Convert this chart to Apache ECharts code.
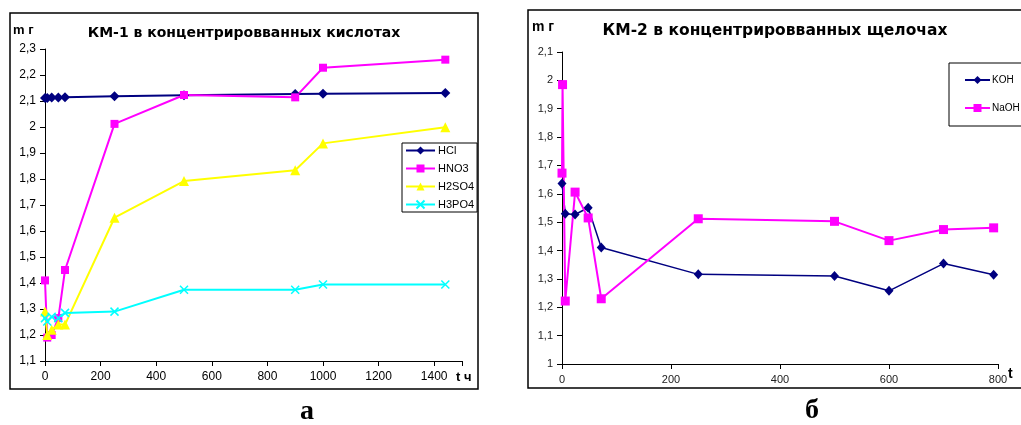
<!DOCTYPE html>
<html>
<head>
<meta charset="utf-8">
<script src="https://cdn.jsdelivr.net/npm/echarts@6/dist/echarts.min.js"></script>
<style>
html,body{margin:0;padding:0;background:#fff;}
#c{width:1021px;height:425px;}
</style>
</head>
<body>
<div id="c"></div>
<script>
// ---- Chart a: KM-1 in concentrated acids ----
var timeA = [0, 8, 24, 48, 72, 250, 500, 900, 1000, 1440];
var hcl   = [2.112, 2.112, 2.113, 2.113, 2.114, 2.118, 2.122, 2.127, 2.128, 2.131];
var hno3  = [1.41, 1.19, 1.2, 1.265, 1.45, 2.012, 2.123, 2.114, 2.228, 2.259];
var h2so4 = [1.29, 1.2, 1.22, 1.24, 1.24, 1.651, 1.792, 1.834, 1.937, 1.999];
var h3po4 = [1.265, 1.252, 1.27, 1.265, 1.285, 1.29, 1.374, 1.374, 1.394, 1.394];
var namesA = ['HCl', 'HNO3', 'H2SO4', 'H3PO4'];

// ---- Chart б: KM-2 in concentrated alkalis ----
var timeKOH  = [0, 6, 24, 48, 72, 250, 500, 600, 700, 792];
var koh      = [1.636, 1.53, 1.527, 1.551, 1.411, 1.316, 1.31, 1.258, 1.354, 1.315];
var timeNaOH = [0, 1, 6, 24, 48, 72, 250, 500, 600, 700, 792];
var naoh     = [1.673, 1.985, 1.222, 1.606, 1.515, 1.23, 1.512, 1.503, 1.435, 1.474, 1.48];
var namesB = ['KOH', 'NaOH'];

var titleA = 'КМ-1 в концентрировванных кислотах';
var titleB = 'КМ-2 в концентрировванных щелочах';
var yNameA = 'm г', xNameA = 't ч', yNameB = 'm г', xNameB = 't';
var capA = 'а', capB = 'б';

function pairs(xs, ys){ return xs.map(function(x,i){ return [x, ys[i]]; }); }
function comma(v){ return String(Number(v.toFixed(1))).replace('.', ','); }

var SANS = "'Liberation Sans', Arial, sans-serif";
var crossPath = 'path://M0,0L10,10M10,0L0,10';

var chart = echarts.init(document.getElementById('c'), null, {renderer:'canvas'});

function lineSeries(name, data, color, symbol, size, xi, lw){
  return {
    name: name, type: 'line', xAxisIndex: xi, yAxisIndex: xi,
    data: data, symbol: symbol, symbolSize: size, showSymbol: true,
    lineStyle: {color: color, width: lw},
    itemStyle: {color: color, borderColor: color, borderWidth: symbol === crossPath ? 1.5 : 0},
    emphasis: {disabled: true}, animation: false
  };
}

var option = {
  animation: false,
  grid: [
    {left: 45, top: 49, right: 559, bottom: 64},
    {left: 562, top: 52, right: 23, bottom: 61}
  ],
  xAxis: [
    {type: 'value', gridIndex: 0, min: 0, max: 1500, interval: 200,
     axisLine: {lineStyle: {color: '#000', width: 1}},
     axisTick: {show: true, inside: false, length: 5, lineStyle: {color: '#000'}},
     axisLabel: {color: '#000', fontFamily: SANS, fontSize: 12, margin: 10,
       formatter: function(v){ return v === 1500 ? '' : String(v); }},
     splitLine: {show: false}},
    {type: 'value', gridIndex: 1, min: 0, max: 800, interval: 200,
     axisLine: {lineStyle: {color: '#000', width: 1}},
     axisTick: {show: true, inside: false, length: 5, lineStyle: {color: '#000'}},
     axisLabel: {color: '#222', fontFamily: SANS, fontSize: 11, margin: 10},
     splitLine: {show: false}}
  ],
  yAxis: [
    {type: 'value', gridIndex: 0, min: 1.1, max: 2.3, interval: 0.1,
     axisLine: {show: true, lineStyle: {color: '#000', width: 1}},
     axisTick: {show: true, inside: false, length: 5, lineStyle: {color: '#000'}},
     axisLabel: {color: '#000', fontFamily: SANS, fontSize: 12, margin: 9, formatter: comma},
     splitLine: {show: false}},
    {type: 'value', gridIndex: 1, min: 1.0, max: 2.1, interval: 0.1,
     axisLine: {show: true, lineStyle: {color: '#000', width: 1}},
     axisTick: {show: true, inside: false, length: 5, lineStyle: {color: '#000'}},
     axisLabel: {color: '#222', fontFamily: SANS, fontSize: 11, margin: 9, formatter: comma},
     splitLine: {show: false}}
  ],
  legend: [
    {data: namesA, orient: 'vertical', left: 402, top: 143,
     padding: [2, 3, 2, 3], itemGap: 7, itemWidth: 29, itemHeight: 10,
     borderColor: '#000', borderWidth: 1, backgroundColor: '#fff', borderRadius: 0,
     textStyle: {color: '#000', fontFamily: SANS, fontSize: 11, padding: [0,0,0,-2]},
     selectedMode: false},
    {data: namesB, orient: 'vertical', left: 949, top: 63,
     padding: [12, 40, 13, 15], itemGap: 18, itemWidth: 25, itemHeight: 10,
     borderColor: '#000', borderWidth: 1, backgroundColor: '#fff', borderRadius: 0,
     textStyle: {color: '#000', fontFamily: SANS, fontSize: 10, padding: [0,0,0,-3]},
     selectedMode: false}
  ],
  series: [
    lineSeries('HCl',   pairs(timeA, hcl),   '#000080', 'diamond', [10, 10], 0, 2),
    lineSeries('HNO3',  pairs(timeA, hno3),  '#FF00FF', 'rect', 8, 0, 2),
    lineSeries('H2SO4', pairs(timeA, h2so4), '#FFFF00', 'triangle', 10, 0, 2),
    lineSeries('H3PO4', pairs(timeA, h3po4), '#00FFFF', crossPath, 8, 0, 2),
    lineSeries('KOH',   pairs(timeKOH, koh),   '#000080', 'diamond', [9, 10], 1, 1.5),
    lineSeries('NaOH',  pairs(timeNaOH, naoh), '#FF00FF', 'rect', 9, 1, 2)
  ],
  graphic: [
    {type: 'rect', shape: {x: 10, y: 13, width: 468, height: 376},
     style: {fill: 'none', stroke: '#000', lineWidth: 1.5}, silent: true, z: -1},
    {type: 'rect', shape: {x: 528, y: 10, width: 520, height: 378},
     style: {fill: 'none', stroke: '#000', lineWidth: 1.5}, silent: true, z: -1},
    {type: 'text', x: 244, y: 33, style: {text: titleA, font: "bold 14px 'DejaVu Sans', sans-serif", fill: '#000', align: 'center', verticalAlign: 'middle'}},
    {type: 'text', x: 775, y: 31, style: {text: titleB, font: "bold 15.5px 'DejaVu Sans', sans-serif", fill: '#000', align: 'center', verticalAlign: 'middle'}},
    {type: 'text', x: 13, y: 30, style: {text: yNameA, font: "bold 13px 'Liberation Sans', Arial, sans-serif", fill: '#000', align: 'left', verticalAlign: 'middle'}},
    {type: 'text', x: 532, y: 27, style: {text: yNameB, font: "bold 14px 'Liberation Sans', Arial, sans-serif", fill: '#000', align: 'left', verticalAlign: 'middle'}},
    {type: 'text', x: 456, y: 377, style: {text: xNameA, font: "bold 13px 'Liberation Sans', Arial, sans-serif", fill: '#000', align: 'left', verticalAlign: 'middle'}},
    {type: 'text', x: 1008, y: 374, style: {text: xNameB, font: "bold 14px 'Liberation Sans', Arial, sans-serif", fill: '#000', align: 'left', verticalAlign: 'middle'}},
    {type: 'text', x: 307, y: 412, style: {text: capA, font: "bold 28px 'Liberation Serif', 'Times New Roman', serif", fill: '#000', align: 'center', verticalAlign: 'middle'}},
    {type: 'text', x: 812, y: 411, style: {text: capB, font: "bold 28px 'Liberation Serif', 'Times New Roman', serif", fill: '#000', align: 'center', verticalAlign: 'middle'}}
  ]
};
chart.setOption(option);
</script>
</body>
</html>
